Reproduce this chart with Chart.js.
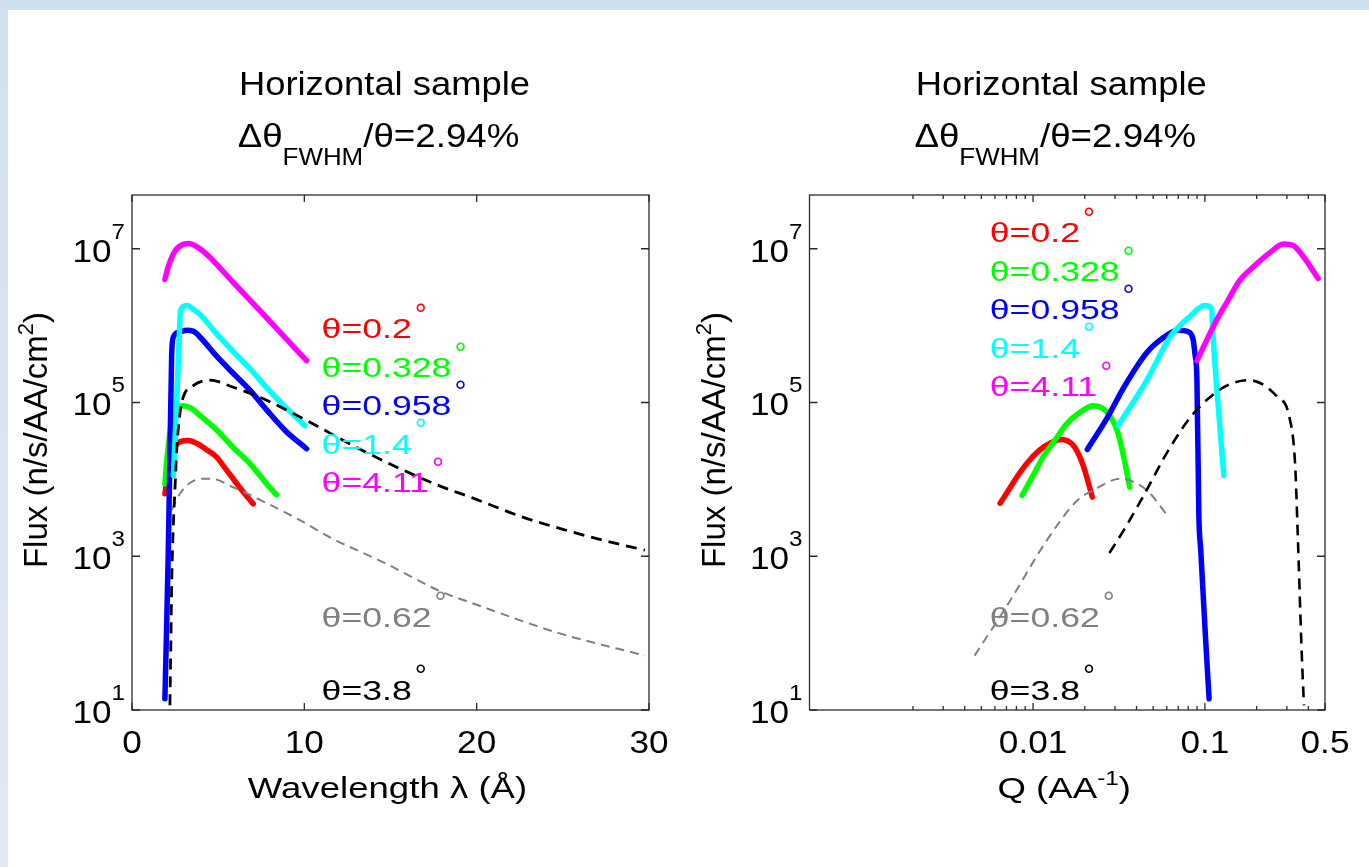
<!DOCTYPE html>
<html>
<head>
<meta charset="utf-8">
<title>Flux vs wavelength and Q</title>
<script src="https://cdn.jsdelivr.net/npm/chart.js@4.4.1/dist/chart.umd.min.js"></script>
<style>
  html, body { margin: 0; padding: 0; background: #fff; }
  #page { position: relative; width: 1369px; height: 867px; overflow: hidden; background: #fff; }
  #topBar { position: absolute; left: 0; top: 0; width: 1369px; height: 10px; background: #cedff0; }
  #sideBar { position: absolute; left: 0; top: 10px; width: 8px; height: 857px; background: linear-gradient(#d2e0f0, #e1e8f3); }
  canvas { position: absolute; top: 0; }
  #left { left: 0; }
  #right { left: 684px; }
</style>
</head>
<body>
<div id="page">
  <div id="topBar"></div>
  <div id="sideBar"></div>
  <canvas id="left" width="684" height="867"></canvas>
  <canvas id="right" width="685" height="867"></canvas>
</div>
<script>
const FONT = '"Liberation Sans", Arial, Helvetica, sans-serif';

// labels of the incidence angles
const thetaNames = ['θ=0.2', 'θ=0.328', 'θ=0.958', 'θ=1.4', 'θ=4.11'];
const thetaColors = ['#ff0000', '#00ff00', '#0000ff', '#00ffff', '#ff00ff'];
const dashedNames = ['θ=0.62', 'θ=3.8'];
const dashedColors = ['#808080', '#000000'];

// flux vs wavelength (Å)
const lamRed = [1.91, 2.1, 2.4, 2.8, 3.27, 3.8, 4.3, 4.91, 5.4, 5.87, 6.4, 7.03];
const fluxRedL = [6.5e3, 1.26e4, 2.4e4, 3.1e4, 3.2e4, 2.9e4, 2.45e4, 1.95e4, 1.4e4, 1.02e4, 7.1e3, 4.8e3];
const lamGreen = [1.91, 2.0, 2.1, 2.3, 2.6, 2.97, 3.4, 4.0, 4.91, 5.87, 6.84, 7.9, 8.39];
const fluxGreenL = [8.7e3, 1.6e4, 2.6e4, 5.6e4, 7.9e4, 9.1e4, 8.5e4, 6.6e4, 4.4e4, 2.6e4, 1.6e4, 8.3e3, 6.3e3];
const lamBlue = [1.91, 2.0, 2.1, 2.2, 2.3, 2.4, 2.8, 3.17, 3.55, 4.0, 4.91, 5.87, 6.84, 7.9, 8.9, 10.13];
const fluxBlueL = [14, 100, 1.0e3, 1.95e4, 4.0e5, 7.1e5, 8.3e5, 8.7e5, 8.5e5, 6.9e5, 4.0e5, 2.4e5, 1.45e5, 7.6e4, 4.3e4, 2.5e4];
const lamCyan = [2.4, 2.55, 2.7, 2.82, 3.17, 3.6, 3.94, 4.91, 5.87, 6.84, 7.9, 8.9, 10.03];
const fluxCyanL = [1.12e4, 6.3e4, 4.0e5, 1.58e6, 1.82e6, 1.6e6, 1.4e6, 7.8e5, 4.6e5, 2.75e5, 1.48e5, 8.7e4, 5.0e4];
const lamMagenta = [1.91, 2.1, 2.49, 3.0, 3.27, 3.8, 4.42, 5.8, 7.23, 8.68, 10.13];
const fluxMagentaL = [4.0e6, 5.8e6, 9.3e6, 1.15e7, 1.17e7, 1.05e7, 8.1e6, 3.8e6, 1.74e6, 7.8e5, 3.5e5];
const lamGray = [2.3, 2.8, 3.4, 4.13, 4.6, 5.87, 7.9, 9.74, 11.45, 14.8, 17.78, 20.33, 24.77, 29.76];
const fluxGrayL = [4.0e3, 6.6e3, 9.1e3, 1.02e4, 1.02e4, 7.9e3, 4.8e3, 2.95e3, 1.78e3, 790, 360, 220, 100, 51];
const lamBlack = [2.2, 2.25, 2.3, 2.4, 2.49, 2.6, 2.78, 2.97, 3.55, 4.52, 5.87, 7.81, 9.74, 13.6, 17.47, 19.98, 22.55, 25.0, 27.5, 29.76];
const fluxBlackL = [11.5, 63, 400, 2.6e3, 7.2e3, 2.5e4, 7.1e4, 1.17e5, 1.66e5, 1.95e5, 1.58e5, 1.07e5, 6.5e4, 2.24e4, 8.9e3, 5.5e3, 3.3e3, 2.24e3, 1.58e3, 1.2e3];

// flux vs Q (AA^-1)
const qRed = [0.00643, 0.0072, 0.0080, 0.0093, 0.0109, 0.0127, 0.0145, 0.0168, 0.0182, 0.0197, 0.0221];
const fluxRedQ = [4.9e3, 7.2e3, 1.05e4, 1.66e4, 2.4e4, 3.0e4, 3.3e4, 2.9e4, 2.24e4, 1.45e4, 5.9e3];
const qGreen = [0.00863, 0.0100, 0.01143, 0.0135, 0.0156, 0.019, 0.0224, 0.0275, 0.0313, 0.034, 0.0365];
const fluxGreenQ = [6.2e3, 1.12e4, 1.95e4, 3.3e4, 5.2e4, 7.6e4, 9.1e4, 7.1e4, 3.9e4, 1.78e4, 7.9e3];
const qBlue = [0.0207, 0.027, 0.0338, 0.0461, 0.058, 0.0695, 0.080, 0.0855, 0.0875, 0.0899, 0.0922, 0.0946, 0.1005, 0.1058];
const fluxBlueQ = [2.45e4, 6.3e4, 1.58e5, 4.5e5, 7.1e5, 8.7e5, 8.3e5, 6.5e5, 4.3e5, 1.95e5, 3.5e3, 1.2e3, 100, 14];
const qCyan = [0.0313, 0.046, 0.0627, 0.0811, 0.0998, 0.1094, 0.111, 0.1163, 0.1289];
const fluxCyanQ = [5.0e4, 1.95e5, 7.1e5, 1.29e6, 1.82e6, 1.66e6, 8.9e5, 1.95e5, 1.12e4];
const qMagenta = [0.09, 0.1163, 0.1358, 0.1585, 0.1945, 0.239, 0.2866, 0.326, 0.371, 0.456];
const fluxMagentaQ = [3.5e5, 1.15e6, 2.1e6, 3.8e6, 6.0e6, 8.9e6, 1.15e7, 1.1e7, 8.1e6, 4.1e6];
const qGray = [0.00457, 0.0072, 0.01205, 0.0182, 0.0224, 0.0321, 0.046, 0.0596];
const fluxGrayQ = [51, 245, 1.62e3, 5.4e3, 7.2e3, 1.02e4, 7.2e3, 3.55e3];
const qBlack = [0.0278, 0.0338, 0.0426, 0.0627, 0.0855, 0.129, 0.18, 0.265, 0.31, 0.335, 0.347, 0.3655, 0.377];
const fluxBlackQ = [1.1e3, 2.2e3, 5.4e3, 2.6e4, 7.1e4, 1.58e5, 1.95e5, 1.17e5, 6.5e4, 1.58e4, 1.95e3, 60, 11.5];

// axis ticks
const fluxTicks = [1e1, 1e3, 1e5, 1e7];
const fluxTickExp = ['1', '3', '5', '7'];
const lamTicks = [0, 10, 20, 30];
const lamTickLabels = ['0', '10', '20', '30'];
const qTicks = [0.01, 0.1, 0.5];
const qTickLabels = ['0.01', '0.1', '0.5'];
const qMinorTicks = [0.002, 0.003, 0.004, 0.005, 0.006, 0.007, 0.008, 0.009,
                     0.02, 0.03, 0.04, 0.05, 0.06, 0.07, 0.08, 0.09, 0.2, 0.3, 0.4];

function pts(xs, ys) {
    return xs.map((x, i) => ({ x: x, y: ys[i] }));
}

function solidLine(color, xs, ys, order) {
    return {
        data: pts(xs, ys),
        borderColor: color,
        borderWidth: 5.5,
        borderCapStyle: 'round',
        borderJoinStyle: 'round',
        pointRadius: 0,
        cubicInterpolationMode: 'monotone',
        order: order
    };
}

function dashedLine(color, xs, ys, width, dash, order) {
    return {
        data: pts(xs, ys),
        borderColor: color,
        borderWidth: width,
        borderDash: dash,
        pointRadius: 0,
        cubicInterpolationMode: 'monotone',
        order: order
    };
}

// draws text pieces (with super/subscripts) side by side, stretched by sx
function drawRuns(ctx, runs, x, y, sx, align) {
    const widths = runs.map(r => {
        ctx.font = r[1] + 'px ' + FONT;
        return ctx.measureText(r[0]).width * sx;
    });
    const total = widths.reduce((a, b) => a + b, 0);
    let cx = align === 'center' ? x - total / 2 : (align === 'right' ? x - total : x);
    runs.forEach((r, i) => {
        ctx.save();
        ctx.font = r[1] + 'px ' + FONT;
        ctx.textAlign = 'left';
        ctx.textBaseline = 'alphabetic';
        ctx.translate(cx, y + (r[2] || 0));
        ctx.scale(sx, 1);
        ctx.fillText(r[0], 0, 0);
        ctx.restore();
        cx += widths[i];
    });
    return total;
}

function decorPlugin(panel) {
    return {
        id: 'decor',
        afterDraw(chart) {
            const ctx = chart.ctx;
            const a = chart.chartArea;
            const xs = chart.scales.x;
            const ys = chart.scales.y;
            const cx = (a.left + a.right) / 2;

            ctx.save();
            // axes box and ticks
            ctx.strokeStyle = '#2b2b2b';
            ctx.lineWidth = 1.3;
            ctx.strokeRect(a.left, a.top, a.right - a.left, a.bottom - a.top);
            ctx.beginPath();
            const xTick = (v, len) => {
                const p = xs.getPixelForValue(v);
                ctx.moveTo(p, a.bottom); ctx.lineTo(p, a.bottom - len);
                ctx.moveTo(p, a.top); ctx.lineTo(p, a.top + len);
            };
            panel.xTicks.forEach(v => xTick(v, 7));
            (panel.xMinor || []).forEach(v => xTick(v, 4));
            fluxTicks.forEach(v => {
                const p = ys.getPixelForValue(v);
                ctx.moveTo(a.left, p); ctx.lineTo(a.left + 8, p);
                ctx.moveTo(a.right, p); ctx.lineTo(a.right - 8, p);
            });
            ctx.stroke();

            ctx.fillStyle = '#000';
            panel.xTicks.forEach((v, i) => {
                drawRuns(ctx, [[panel.xTickLabels[i], 32]], xs.getPixelForValue(v), a.bottom + 43, 1.1, 'center');
            });
            fluxTicks.forEach((v, i) => {
                const p = ys.getPixelForValue(v);
                drawRuns(ctx, [['10', 32, 13], [fluxTickExp[i], 22, -10]], a.left - 7, p, 1.1, 'right');
            });

            // titles
            drawRuns(ctx, [['Horizontal sample', 34]], cx - 6, 95, 1.07, 'center');
            drawRuns(ctx, [['Δθ', 34, 0], ['FWHM', 24, 18], ['/θ=2.94%', 34, 0]], cx - 12, 147, 1.08, 'center');

            // axis labels
            drawRuns(ctx, panel.xLabel, cx - 3, a.bottom + 88, 1.22, 'center');
            ctx.save();
            ctx.translate(a.left - 85, a.top + 245);
            ctx.rotate(-Math.PI / 2);
            drawRuns(ctx, [['Flux (n/s/AA/cm', 33, 0], ['2', 22, -14], [')', 33, 0]], 0, 0, 1.0, 'center');
            ctx.restore();

            // angle labels with a degree sign
            panel.legend.forEach(e => {
                const px = xs.getPixelForValue(e.x);
                const py = ys.getPixelForValue(e.y) + 3;
                ctx.fillStyle = e.color;
                const w = drawRuns(ctx, [[e.text, 27]], px, py + 9.7, 1.32, 'left');
                ctx.font = '30px ' + FONT;
                ctx.textAlign = 'left';
                ctx.textBaseline = 'alphabetic';
                ctx.fillText('°', px + w + 9 - 6, py - 21.5 + 17);
            });
            ctx.restore();
        }
    };
}

function makePanel(id, panel) {
    new Chart(document.getElementById(id), {
        type: 'line',
        data: { datasets: panel.datasets },
        options: {
            responsive: false,
            animation: false,
            devicePixelRatio: 1,
            events: [],
            layout: { padding: panel.padding },
            scales: {
                x: Object.assign({ display: false }, panel.xScale),
                y: { type: 'logarithmic', display: false, min: 10, max: 5e7 }
            },
            plugins: {
                legend: { display: false },
                tooltip: { enabled: false }
            }
        },
        plugins: [decorPlugin(panel)]
    });
}

function legendEntries(xPos, yPos, yGray, yBlack) {
    const list = thetaNames.map((t, i) => ({ text: t, color: thetaColors[i], x: xPos, y: yPos[i] }));
    list.push({ text: dashedNames[0], color: dashedColors[0], x: xPos, y: yGray });
    list.push({ text: dashedNames[1], color: dashedColors[1], x: xPos, y: yBlack });
    return list;
}

// left panel: wavelength
makePanel('left', {
    padding: { left: 132, top: 195, right: 35, bottom: 157 },
    xScale: { type: 'linear', min: 0, max: 30 },
    xTicks: lamTicks,
    xTickLabels: lamTickLabels,
    xLabel: [['Wavelength λ (Å)', 30, 0]],
    legend: legendEntries(11, [1e6, 3.16e5, 1e5, 3.16e4, 1e4], 178, 20),
    datasets: [
        solidLine(thetaColors[0], lamRed, fluxRedL, 7),
        solidLine(thetaColors[1], lamGreen, fluxGreenL, 6),
        dashedLine(dashedColors[0], lamGray, fluxGrayL, 2, [9, 6], 5),
        solidLine(thetaColors[2], lamBlue, fluxBlueL, 4),
        solidLine(thetaColors[3], lamCyan, fluxCyanL, 3),
        dashedLine(dashedColors[1], lamBlack, fluxBlackL, 2.8, [11, 7], 2),
        solidLine(thetaColors[4], lamMagenta, fluxMagentaL, 1)
    ]
});

// right panel: scattering vector
makePanel('right', {
    padding: { left: 125.5, top: 195, right: 44, bottom: 157 },
    xScale: { type: 'logarithmic', min: 5e-4, max: 0.5 },
    xTicks: qTicks,
    xMinor: qMinorTicks,
    xTickLabels: qTickLabels,
    xLabel: [['Q (AA', 30, 0], ['-1', 20, -13], [')', 30, 0]],
    legend: legendEntries(0.0056, [1.78e7, 5.6e6, 1.78e6, 5.6e5, 1.78e5], 178, 20),
    datasets: [
        solidLine(thetaColors[0], qRed, fluxRedQ, 7),
        solidLine(thetaColors[1], qGreen, fluxGreenQ, 6),
        dashedLine(dashedColors[0], qGray, fluxGrayQ, 2, [9, 6], 5),
        solidLine(thetaColors[2], qBlue, fluxBlueQ, 4),
        solidLine(thetaColors[3], qCyan, fluxCyanQ, 3),
        dashedLine(dashedColors[1], qBlack, fluxBlackQ, 2.6, [11, 7], 2),
        solidLine(thetaColors[4], qMagenta, fluxMagentaQ, 1)
    ]
});
</script>
</body>
</html>
